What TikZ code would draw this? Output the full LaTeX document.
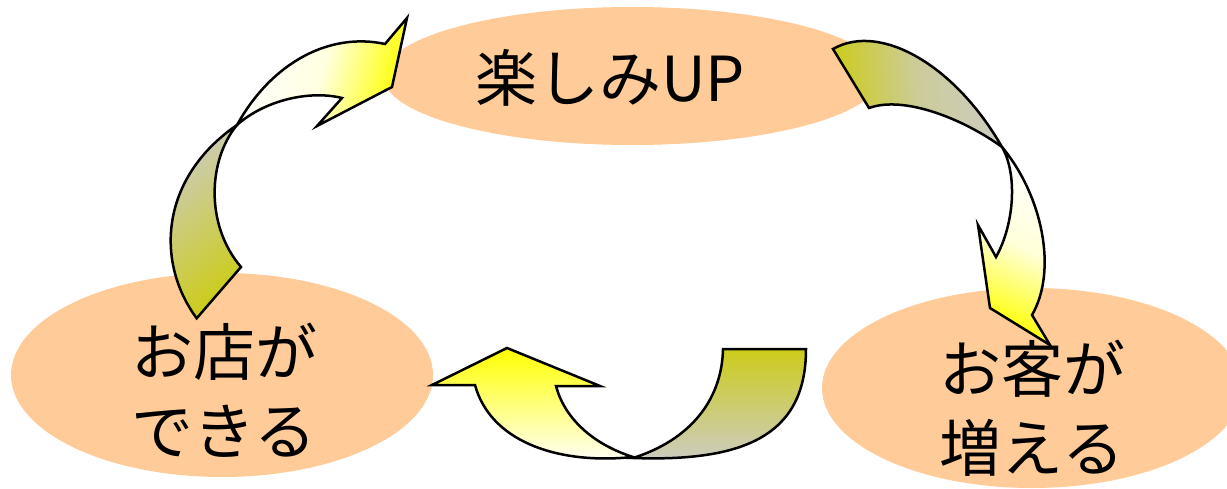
\documentclass[tikz,border=0pt]{standalone}
\usepackage{fontspec}
\newfontfamily\jp{Noto Sans CJK JP}
\usetikzlibrary{shapes.geometric}
\definecolor{peach}{HTML}{FFCC99}
\definecolor{olivec}{HTML}{CCCC1A}
\definecolor{grayc}{HTML}{CCCCC4}
\begin{document}
\begin{tikzpicture}[x=1pt,y=-1pt,
  bubble/.style={ellipse, fill=peach, inner sep=0pt},
  lbl/.style={font=\jp\fontsize{62}{79}\selectfont, align=center, text=black},
  band/.style={draw=black, line width=2.5pt, line join=miter}]
\useasboundingbox (0,0) rectangle (1227,489);
\clip (0,0) rectangle (1227,489);
% ellipses
\node[bubble, minimum width=498pt, minimum height=138pt] (top) at (632,76) {};
\node[bubble, minimum width=422pt, minimum height=204pt] (left) at (222,375) {};
\node[bubble, minimum width=420pt, minimum height=200pt] (right) at (1032,388) {};
\node[lbl] (ttop) at (610,78) {楽しみUP};
\node[lbl] (tleft) at (224,390) {お店が\\できる};
\node[lbl] (tright) at (1032,408) {お客が\\増える};
% arrow 1 (left -> top)
\path[band, top color=grayc, bottom color=olivec, shading angle=40]
  (196.7,318.3) .. controls (155,262) and (160,178) .. (237,125)
  .. controls (208,160) and (205,225) .. (241,267) -- cycle;
\path[band, top color=white, bottom color=yellow, middle color=yellow!12, shading angle=75]
  (237,125) .. controls (272,62) and (330,32) .. (385,44)
  -- (407,18) -- (392,87) -- (317,126) -- (342,98)
  .. controls (310,90) and (265,100) .. (237,125) -- cycle;
% arrow 2 (top -> right)
\path[band, top color=olivec, bottom color=grayc, middle color=grayc!75!olivec, shading angle=95]
  (833,49) .. controls (880,22) and (955,65) .. (1002,147)
  .. controls (965,120) and (905,95) .. (869,108) -- cycle;
\path[band, top color=white, bottom color=yellow, middle color=yellow!15, shading angle=-25]
  (1002,147) .. controls (1042,195) and (1058,270) .. (1032,315)
  -- (1050,345) -- (990,308) -- (978,225) -- (996,257)
  .. controls (1014,225) and (1018,175) .. (1002,147) -- cycle;
% arrow 3 (right -> left)
\path[band, top color=olivec, bottom color=grayc]
  (723,349) -- (806,349)
  .. controls (806,435) and (745,462) .. (633,458)
  .. controls (690,440) and (722,400) .. (723,349) -- cycle;
\path[band, top color=yellow, bottom color=white]
  (633,457) .. controls (555,465) and (490,440) .. (475,385)
  -- (432,385) -- (507,348) -- (600,386) -- (556,386)
  .. controls (565,420) and (595,445) .. (633,457) -- cycle;
\end{tikzpicture}
\end{document}
